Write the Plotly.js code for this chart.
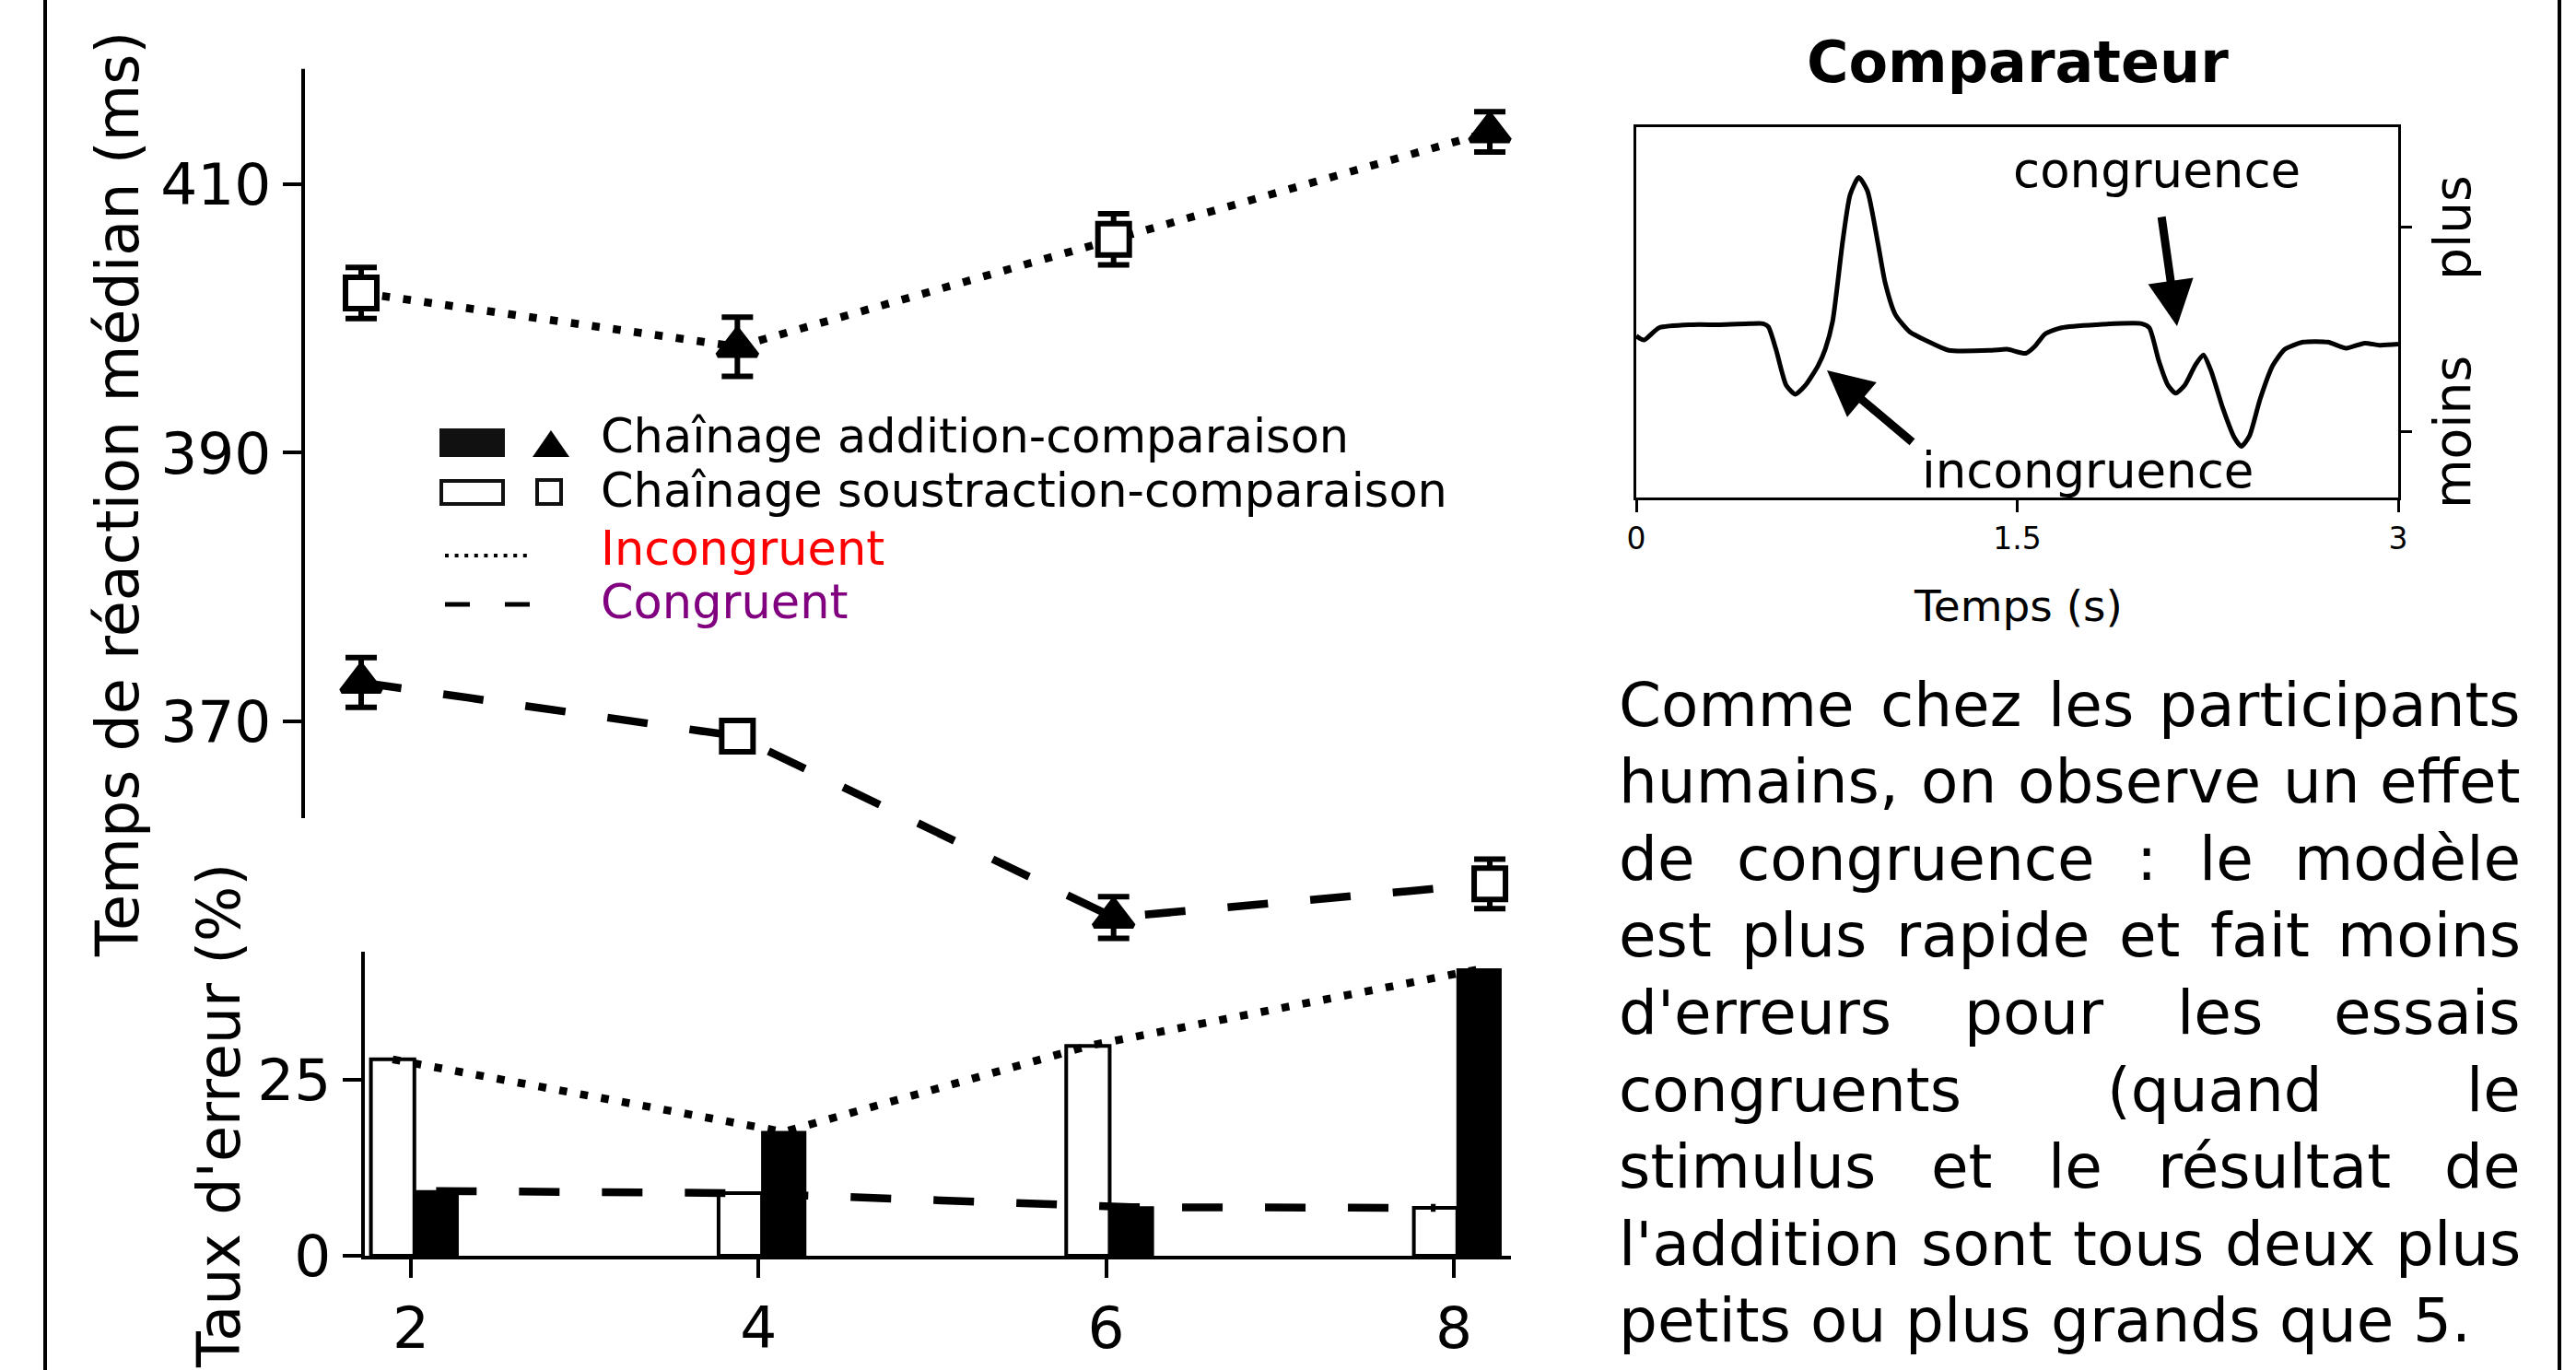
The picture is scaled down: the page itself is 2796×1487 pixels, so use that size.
<!DOCTYPE html>
<html><head><meta charset="utf-8">
<script src="https://cdn.plot.ly/plotly-3.0.1.min.js"></script>
<style>html,body{margin:0;padding:0;background:#fff;} #chart{width:2796px;height:1487px;}</style>
</head><body><div id="chart"></div>
<script>
const FONT = 'DejaVu Sans';

// ---------- data ----------
const xVals = [2, 4, 6, 8];
const xTickText = ['2', '4', '6', '8'];
// which chaining is the incongruent condition at each x (true = addition, false = soustraction)
const incongIsAddition = [false, true, false, true];
// median reaction times (ms)
const rtIncong = [401.9, 397.9, 405.9, 413.9];
const rtIncongErr = [1.9, 2.2, 1.9, 1.5];
const rtCong = [372.9, 368.9, 355.4, 357.9];
const rtCongErr = [1.85, 0.8, 1.55, 1.85];
const rtTicks = [370, 390, 410];
// error rates (%)
const errSub = [27.9, 8.9, 29.8, 6.8];
const errAdd = [9.2, 17.6, 6.9, 40.7];
const errTicks = [0, 25];
// comparator activity (inset)
const compTime = [0, 0.03, 0.09, 0.22, 0.33, 0.45, 0.50, 0.52, 0.55, 0.59, 0.626, 0.667, 0.716, 0.744, 0.773, 0.813, 0.842, 0.876, 0.91, 0.952, 0.98, 1.02, 1.077, 1.146, 1.23, 1.40, 1.46, 1.534, 1.57, 1.61, 1.674, 1.81, 1.99, 2.02, 2.057, 2.093, 2.124, 2.16, 2.2, 2.233, 2.263, 2.31, 2.354, 2.382, 2.414, 2.456, 2.506, 2.554, 2.626, 2.723, 2.795, 2.868, 2.927, 3.0];
const compSignal = [-0.06, -0.1, 0.02, 0.05, 0.05, 0.06, 0.06, 0.03, -0.19, -0.54, -0.63, -0.54, -0.35, -0.19, 0.08, 0.87, 1.32, 1.49, 1.36, 0.84, 0.46, 0.15, -0.02, -0.11, -0.2, -0.2, -0.19, -0.23, -0.16, -0.04, 0.02, 0.05, 0.06, 0.02, -0.30, -0.54, -0.62, -0.54, -0.35, -0.245, -0.40, -0.77, -1.05, -1.14, -1.04, -0.68, -0.35, -0.19, -0.12, -0.12, -0.18, -0.13, -0.15, -0.14];
const compXTicks = [0, 1.5, 3];
const compXTickText = ['0', '1.5', '3'];
const compYTicks = [1, -1];
const compYTickText = ['plus', 'moins'];
// texts
const legendLabels = ['Chaînage addition-comparaison', 'Chaînage soustraction-comparaison', 'Incongruent', 'Congruent'];
const rtTitle = 'Temps de réaction médian (ms)';
const errTitle = "Taux d'erreur (%)";
const compTitle = 'Comparateur';
const compXTitle = 'Temps (s)';
const compNotes = ['congruence', 'incongruence'];
const paragraphLines = [
  'Comme chez les participants',
  'humains, on observe un effet',
  'de congruence : le modèle',
  'est plus rapide et fait moins',
  "d'erreurs pour les essais",
  'congruents (quand le',
  'stimulus et le résultat de',
  "l'addition sont tous deux plus",
  'petits ou plus grands que 5.'
];

// ---------- helpers ----------
const W = 2796, H = 1487;
const px = x => x / W;
const py = y => 1 - y / H;
const BAR_W = 0.25, SUB_OFF = -0.23, ADD_OFF = 0.02;
const subCenter = SUB_OFF + BAR_W / 2, addCenter = ADD_OFF + BAR_W / 2;

const symFor = isAdd => isAdd ? 'triangle-up' : 'square';
const colFor = isAdd => isAdd ? 'black' : 'white';
const sizeFor = isAdd => isAdd ? 37 : 34;
const congIsAddition = incongIsAddition.map(a => !a);

const dotDash = '8.5px,14.5px';
const longDash = '44px,46px';

const traces = [
  {
    x: xVals, y: rtIncong, xaxis: 'x', yaxis: 'y', type: 'scatter', mode: 'lines+markers',
    line: {color: 'black', width: 8.5, dash: dotDash},
    marker: {symbol: incongIsAddition.map(symFor), color: incongIsAddition.map(colFor), opacity: 1,
             size: incongIsAddition.map(sizeFor), line: {color: 'black', width: 6}},
    error_y: {type: 'data', array: rtIncongErr, visible: true, color: 'black', thickness: 6, width: 17},
    showlegend: false, cliponaxis: false, hoverinfo: 'skip'
  },
  {
    x: xVals, y: rtCong, xaxis: 'x', yaxis: 'y', type: 'scatter', mode: 'lines+markers',
    line: {color: 'black', width: 8.5, dash: longDash},
    marker: {symbol: congIsAddition.map(symFor), color: congIsAddition.map(colFor), opacity: 1,
             size: congIsAddition.map(sizeFor), line: {color: 'black', width: 6}},
    error_y: {type: 'data', array: rtCongErr, visible: true, color: 'black', thickness: 6, width: 17},
    showlegend: false, cliponaxis: false, hoverinfo: 'skip'
  },
  {
    x: xVals, y: errSub, xaxis: 'x2', yaxis: 'y2', type: 'bar', offset: SUB_OFF, width: BAR_W,
    marker: {color: 'white', line: {color: 'black', width: 4}}, showlegend: false, hoverinfo: 'skip'
  },
  {
    x: xVals, y: errAdd, xaxis: 'x2', yaxis: 'y2', type: 'bar', offset: ADD_OFF, width: BAR_W,
    marker: {color: 'black', line: {color: 'black', width: 2}}, showlegend: false, hoverinfo: 'skip'
  },
  {
    x: xVals.map((v, i) => v + (incongIsAddition[i] ? addCenter : subCenter)),
    y: xVals.map((v, i) => incongIsAddition[i] ? errAdd[i] : errSub[i]),
    xaxis: 'x2', yaxis: 'y2', type: 'scatter', mode: 'lines',
    line: {color: 'black', width: 8.5, dash: dotDash}, showlegend: false, hoverinfo: 'skip', cliponaxis: false
  },
  {
    x: xVals.map((v, i) => v + (congIsAddition[i] ? addCenter : subCenter)),
    y: xVals.map((v, i) => congIsAddition[i] ? errAdd[i] : errSub[i]),
    xaxis: 'x2', yaxis: 'y2', type: 'scatter', mode: 'lines',
    line: {color: 'black', width: 8.5, dash: longDash}, showlegend: false, hoverinfo: 'skip', cliponaxis: false
  },
  {
    x: compTime, y: compSignal, xaxis: 'x3', yaxis: 'y3', type: 'scatter', mode: 'lines',
    line: {color: 'black', width: 5, shape: 'spline', smoothing: 0.6}, showlegend: false, hoverinfo: 'skip'
  }
];

// ---------- annotations ----------
const ann = [];
const txt = (x, y, text, size, extra) => Object.assign({
  xref: 'paper', yref: 'paper', x: px(x), y: py(y), text: text, showarrow: false,
  xanchor: 'center', yanchor: 'middle', borderpad: 0,
  font: {family: FONT, size: size, color: 'black'}
}, extra || {});

ann.push(txt(128, 537, rtTitle, 63.5, {textangle: -90}));
ann.push(txt(238, 1211, errTitle, 63.5, {textangle: -90}));

const legY = [474, 532, 595, 654];
const legCol = ['black', 'black', '#ff0000', '#800080'];
legendLabels.forEach((l, i) => ann.push(txt(651, legY[i], l, 51, {xanchor: 'left', font: {family: FONT, size: 51, color: legCol[i]}})));

ann.push(txt(2190, 67, '<b>' + compTitle + '</b>', 62));
ann.push(txt(2190, 657, compXTitle, 47));
ann.push(txt(2341, 184, compNotes[0], 53));
ann.push(txt(2266, 511, compNotes[1], 53));

// right-hand inset tick labels (rotated), centred on their ticks
compYTicks.forEach((v, i) => ann.push({
  xref: 'paper', yref: 'y3', x: px(2662), y: v, text: compYTickText[i], showarrow: false,
  xanchor: 'center', yanchor: 'middle', textangle: -90, borderpad: 0,
  font: {family: FONT, size: 55, color: 'black'}
}));

const arrow = (tipX, tipY, tailX, tailY) => ({
  xref: 'paper', yref: 'paper', x: px(tipX), y: py(tipY), ax: tailX - tipX, ay: tailY - tipY,
  axref: 'pixel', ayref: 'pixel', text: '', showarrow: true, arrowhead: 2, arrowsize: 1.1,
  arrowwidth: 9, arrowcolor: 'black', standoff: 0, startstandoff: 0
});
ann.push(arrow(2363, 354, 2346, 234));
ann.push(arrow(1983, 402, 2077, 481));

// justified paragraph
const ctx = document.createElement('canvas').getContext('2d');
const PAR_SIZE = 66;
ctx.font = PAR_SIZE + 'px "' + FONT + '"';
const parLeft = 1756, parRight = 2737, parTop = 765, parStep = 83.6;
paragraphLines.forEach((line, i) => {
  const words = line.split(' ');
  const widths = words.map(w => ctx.measureText(w).width);
  const total = widths.reduce((a, b) => a + b, 0);
  const last = i === paragraphLines.length - 1;
  const gap = last ? ctx.measureText(' ').width : (parRight - parLeft - total) / (words.length - 1);
  let x = parLeft;
  const y = parTop + i * parStep;
  words.forEach((w, j) => {
    if (!last && j === words.length - 1 && j > 0) {
      ann.push(txt(parRight, y, w, PAR_SIZE, {xanchor: 'right'}));
    } else {
      ann.push(txt(x, y, w, PAR_SIZE, {xanchor: 'left'}));
    }
    x += widths[j] + gap;
  });
});

// ---------- shapes ----------
const shapes = [
  {type: 'line', xref: 'paper', yref: 'paper', x0: px(49), x1: px(49), y0: 0, y1: 1, line: {color: 'black', width: 4}},
  {type: 'line', xref: 'paper', yref: 'paper', x0: px(2778), x1: px(2778), y0: 0, y1: 1, line: {color: 'black', width: 4}},
  // trimmed left spine of reaction-time panel
  {type: 'line', xref: 'paper', yref: 'y', x0: px(329), x1: px(329), y0: 362.8, y1: 418.6, line: {color: 'black', width: 4}},
  // legend handles
  {type: 'rect', xref: 'paper', yref: 'paper', x0: px(477), x1: px(548), y0: py(496), y1: py(465), fillcolor: '#111111', line: {width: 0}},
  {type: 'path', xref: 'paper', yref: 'paper', path: `M ${px(578)},${py(496)} L ${px(618)},${py(496)} L ${px(598)},${py(467)} Z`, fillcolor: 'black', line: {width: 0}},
  {type: 'rect', xref: 'paper', yref: 'paper', x0: px(479), x1: px(546), y0: py(547), y1: py(522), fillcolor: 'white', line: {color: '#111111', width: 4}},
  {type: 'rect', xref: 'paper', yref: 'paper', x0: px(583), x1: px(609), y0: py(547), y1: py(521), fillcolor: 'white', line: {color: '#111111', width: 4}},
  {type: 'line', xref: 'paper', yref: 'paper', x0: px(483), x1: px(578), y0: py(603), y1: py(603), line: {color: 'black', width: 4, dash: '4px,6.6px'}},
  {type: 'line', xref: 'paper', yref: 'paper', x0: px(483), x1: px(575), y0: py(656), y1: py(656), line: {color: 'black', width: 5, dash: '27px,38px'}}
];

const tickFont = {family: FONT, size: 63, color: 'black'};
const layout = {
  width: W, height: H, autosize: false,
  margin: {l: 0, r: 0, t: 0, b: 0, pad: 0},
  paper_bgcolor: 'white', plot_bgcolor: 'rgba(0,0,0,0)',
  showlegend: false, barmode: 'overlay',
  font: {family: FONT, color: 'black'},
  xaxis: {domain: [px(329), px(1650)], range: [1.6914, 8.1614], visible: false, fixedrange: true},
  yaxis: {domain: [py(1030), py(60)], range: [353.053, 419.605], anchor: 'x', showline: false,
          showgrid: false, zeroline: false, ticks: 'outside', ticklen: 21, tickwidth: 4, tickcolor: 'black',
          tickmode: 'array', tickvals: rtTicks, ticktext: rtTicks.map(String), tickfont: tickFont, fixedrange: true},
  xaxis2: {domain: [px(396), px(1640)], range: [1.735, 8.3286], anchor: 'y2', showline: true, linewidth: 4,
           linecolor: 'black', showgrid: false, zeroline: false, ticks: 'outside', ticklen: 20, tickwidth: 4,
           tickcolor: 'black', tickmode: 'array', tickvals: xVals, ticktext: xTickText, tickfont: tickFont, fixedrange: true},
  yaxis2: {domain: [py(1363), py(1033)], range: [0, 43.19], anchor: 'x2', showline: true, linewidth: 4,
           linecolor: 'black', showgrid: false, zeroline: false, ticks: 'outside', ticklen: 20, tickwidth: 4,
           tickcolor: 'black', tickmode: 'array', tickvals: errTicks, ticktext: errTicks.map(String), tickfont: tickFont, fixedrange: true},
  xaxis3: {domain: [px(1776), px(2603)], range: [0, 3], anchor: 'y3', showline: true, mirror: true, linewidth: 3,
           linecolor: 'black', showgrid: false, zeroline: false, ticks: 'outside', ticklen: 13, tickwidth: 3,
           tickcolor: 'black', tickmode: 'array', tickvals: compXTicks, ticktext: compXTickText,
           tickfont: {family: FONT, size: 33, color: 'black'}, fixedrange: true},
  yaxis3: {domain: [py(540), py(138)], range: [-1.64, 1.982], anchor: 'x3', side: 'right', showline: true, mirror: true,
           linewidth: 3, linecolor: 'black', showgrid: false, zeroline: false, ticks: 'outside', ticklen: 12, tickwidth: 3,
           tickcolor: 'black', tickmode: 'array', tickvals: compYTicks, showticklabels: false, fixedrange: true},
  annotations: ann,
  shapes: shapes
};

Plotly.newPlot('chart', traces, layout, {displayModeBar: false, staticPlot: true});
</script>
</body></html>
